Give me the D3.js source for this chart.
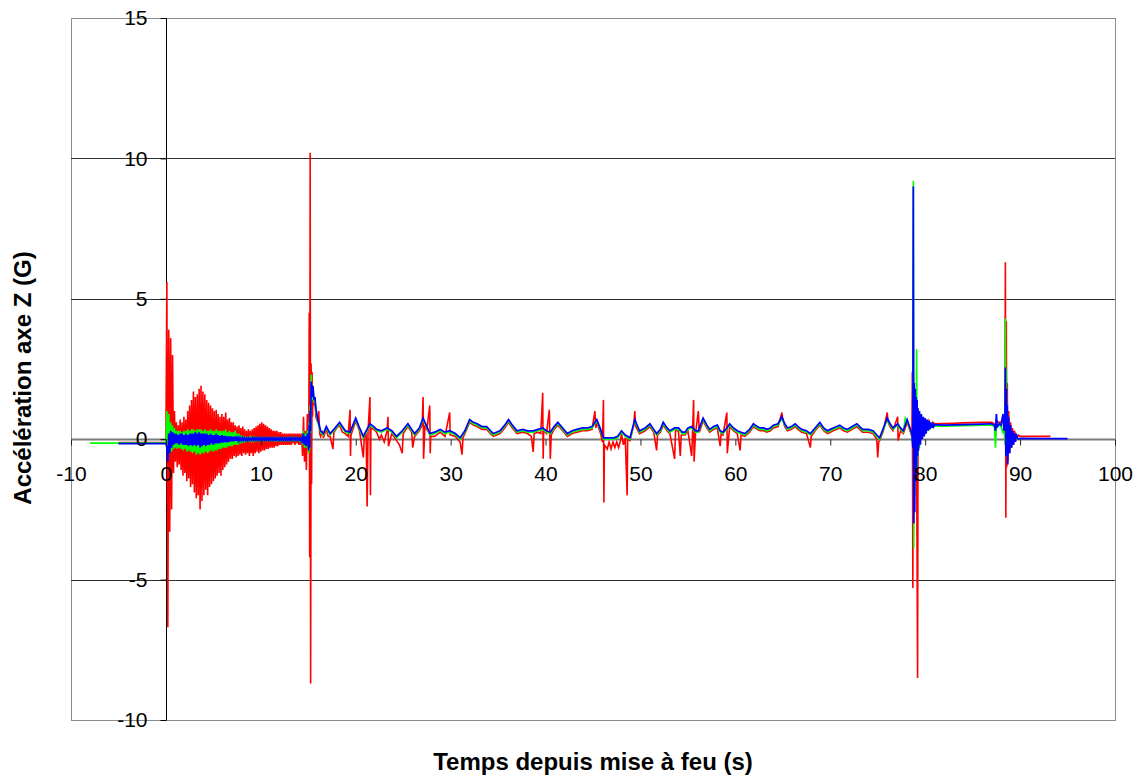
<!DOCTYPE html>
<html><head><meta charset="utf-8">
<script src="https://cdn.jsdelivr.net/npm/d3@7"></script>
<style>body{margin:0;background:#fff}svg{display:block}</style>
</head><body>
<svg id="chart" width="1148" height="776"></svg>
<script>
// ---------- tick labels ----------
const xTicks = [-10, 0, 10, 20, 30, 40, 50, 60, 70, 80, 90, 100];
const yTicks = [-10, -5, 0, 5, 10, 15];
const gridValues = [-5, 5, 10];
const xTitle = "Temps depuis mise à feu (s)";
const yTitle = "Accélération axe Z (G)";

// ---------- data : time (s), acceleration (G) ----------
// before ignition
const redPre = [[-5, -0.12], [-0.05, -0.12]];
const greenPre = [[-8, -0.14], [-0.05, -0.14]];
const bluePre = [[-5, -0.16], [-0.05, -0.16]];

// ignition burst, sampled every 0.1 s from 0.0 to 15.0 s
const burstStep = 0.1;
const redBurst = [
  -0.1, 5.6, -6.7, 3.9, -3.3, 3.6, -2.5, 3.0, -1.2, 1.0,
  -0.8, 0.6, -1.0, 0.5, -0.9, 0.7, -1.1, 0.6, -1.3, 0.8,
  -1.2, 0.7, -1.5, 1.0, -1.4, 1.2, -1.7, 1.4, -1.6, 1.7,
  -1.9, 1.5, -2.1, 1.6, -2.0, 1.8, -2.5, 1.9, -2.2, 1.7,
  -2.0, 1.6, -1.8, 1.4, -2.0, 1.3, -1.7, 1.2, -1.6, 1.1,
  -1.5, 1.0, -1.4, 1.05, -1.3, 0.9, -1.2, 0.8, -1.3, 0.9,
  -1.1, 0.8, -1.0, 0.95, -0.9, 0.7, -0.8, 0.75, -0.7, 0.6,
  -0.7, 0.6, -0.6, 0.5, -0.65, 0.45, -0.6, 0.5, -0.55, 0.4,
  -0.6, 0.45, -0.5, 0.35, -0.55, 0.3, -0.5, 0.35, -0.6, 0.3,
  -0.5, 0.35, -0.6, 0.4, -0.5, 0.45, -0.45, 0.5, -0.5, 0.55,
  -0.45, 0.6, -0.4, 0.55, -0.4, 0.5, -0.35, 0.45, -0.35, 0.4,
  -0.3, 0.35, -0.3, 0.3, -0.3, 0.3, -0.25, 0.3, -0.25, 0.25,
  -0.2, 0.25, -0.2, 0.2, -0.2, 0.2, -0.2, 0.2, -0.2, 0.2,
  -0.2, 0.2, -0.2, 0.2, -0.15, 0.2, -0.2, 0.2, -0.15, 0.2,
  -0.2, 0.2, -0.2, 0.2, -0.6, 0.8, -0.8, 0.3, -1.1, 0.9,
  -0.2
];
const greenBurst = [
  -0.1, 1.0, -0.6, 0.9, -0.5, 0.6, -0.45, 0.5, -0.35, 0.4,
  -0.3, 0.3, -0.35, 0.3, -0.3, 0.3, -0.35, 0.25, -0.4, 0.3,
  -0.35, 0.3, -0.45, 0.35, -0.4, 0.3, -0.45, 0.35, -0.5, 0.35,
  -0.45, 0.3, -0.55, 0.35, -0.5, 0.35, -0.55, 0.35, -0.5, 0.3,
  -0.5, 0.35, -0.45, 0.3, -0.5, 0.3, -0.45, 0.35, -0.4, 0.3,
  -0.45, 0.3, -0.4, 0.35, -0.4, 0.3, -0.35, 0.3, -0.35, 0.3,
  -0.3, 0.3, -0.3, 0.35, -0.3, 0.25, -0.25, 0.3, -0.25, 0.25,
  -0.25, 0.25, -0.2, 0.3, -0.2, 0.2, -0.2, 0.2, -0.15, 0.15,
  -0.15, 0.12, -0.12, 0.1, -0.1, 0.08, -0.08, 0.08, -0.08, 0.06,
  -0.06, 0.05, -0.05, 0.05, -0.05, 0.04, -0.04, 0.04, -0.04, 0.04,
  -0.04, 0.04, -0.04, 0.04, -0.04, 0.04, -0.04, 0.04, -0.04, 0.04,
  -0.04, 0.04, -0.04, 0.04, -0.04, 0.04, -0.04, 0.04, -0.04, 0.04,
  -0.04, 0.04, -0.04, 0.04, -0.04, 0.04, -0.04, 0.04, -0.04, 0.04,
  -0.04, 0.04, -0.04, 0.04, -0.04, 0.04, -0.04, 0.04, -0.04, 0.04,
  -0.04, 0.04, -0.04, 0.04, -0.2, 0.3, -0.3, 0.2, -0.3, 0.3,
  -0.1
];
const blueBurst = [
  -0.15, -0.3, -0.8, 0.2, -0.5, 0.3, -0.3, 0.25, -0.2, 0.2,
  -0.15, 0.2, -0.15, 0.15, -0.2, 0.2, -0.15, 0.2, -0.2, 0.15,
  -0.2, 0.2, -0.2, 0.15, -0.25, 0.2, -0.2, 0.2, -0.25, 0.2,
  -0.2, 0.25, -0.25, 0.2, -0.2, 0.25, -0.3, 0.2, -0.25, 0.2,
  -0.2, 0.2, -0.25, 0.2, -0.2, 0.15, -0.2, 0.2, -0.15, 0.15,
  -0.2, 0.15, -0.15, 0.2, -0.15, 0.15, -0.15, 0.12, -0.12, 0.15,
  -0.12, 0.12, -0.1, 0.12, -0.12, 0.1, -0.1, 0.1, -0.08, 0.1,
  -0.08, 0.08, -0.08, 0.1, -0.06, 0.06, -0.06, 0.06, -0.05, 0.05,
  -0.05, 0.05, -0.04, 0.04, -0.04, 0.04, -0.04, 0.04, -0.03, 0.03,
  -0.03, 0.04, -0.03, 0.04, -0.03, 0.04, -0.03, 0.04, -0.03, 0.04,
  -0.03, 0.04, -0.03, 0.04, -0.03, 0.04, -0.03, 0.04, -0.03, 0.04,
  -0.03, 0.04, -0.03, 0.04, -0.03, 0.04, -0.03, 0.04, -0.03, 0.04,
  -0.03, 0.04, -0.03, 0.04, -0.03, 0.04, -0.03, 0.04, -0.03, 0.04,
  -0.03, 0.04, -0.03, 0.04, -0.03, 0.04, -0.03, 0.04, -0.03, 0.04,
  -0.03, 0.04, -0.03, 0.04, -0.15, 0.2, -0.2, 0.1, -0.25, 0.2,
  0.0
];

// from the 15 s shock to the end of the flight
const redMid = [
  [15.05,-0.5],[15.1,4.5],[15.15,-4.2],[15.2,10.2],[15.25,-8.7],
  [15.3,2.7],[15.35,-1.6],[15.4,2.4],[15.45,0.8],[15.5,1.8],[15.6,1.2],[15.7,1.5],[15.8,0.8],
  [16.0,0.6],[16.1,1.0],[16.2,0.2],[16.3,0.1],[16.5,0.3],[16.6,0.05],[16.9,0.35],[17.1,0.1],
  [17.3,0.1],[17.6,-0.35],[17.7,0.25],[18.0,0.4],[18.3,0.5],[18.6,0.25],[18.9,0.2],[19.2,0.1],
  [19.4,1.05],[19.45,-0.6],[19.5,0.15],[20.0,0.65],[20.4,0.3],[20.8,-0.65],[20.9,0.05],[21.1,0.2],
  [21.2,-2.4],[21.3,0.3],[21.5,1.5],[21.55,-2.0],[21.6,0.4],[21.9,0.35],[22.2,0.25],[22.5,0.0],
  [22.7,0.15],[23.0,-0.1],[23.3,0.3],[23.4,0.8],[23.45,-0.25],[23.8,0.2],[24.3,-0.05],[24.6,-0.2],
  [24.9,-0.5],[25.0,0.2],[25.5,0.45],[25.9,0.25],[26.0,-0.3],[26.2,0.1],[26.7,0.3],[27.0,0.5],
  [27.1,1.5],[27.15,-0.7],[27.3,0.5],[27.5,0.35],[27.8,1.2],[27.85,-0.5],[27.9,0.1],[28.3,0.1],
  [28.9,0.25],[29.4,0.1],[29.9,0.95],[29.95,0.15],[30.5,0.1],[31.0,-0.1],[31.2,-0.55],[31.3,0.05],
  [31.5,0.2],[32.0,0.6],[32.4,0.5],[32.8,0.45],[33.3,0.35],[33.8,0.35],[34.2,0.2],[34.5,0.1],
  [35.2,0.2],[35.7,0.4],[36.1,0.6],[36.5,0.4],[37.0,0.2],[37.6,0.25],[38.1,0.2],[38.5,0.1],
  [38.7,-0.45],[38.8,0.2],[39.2,0.25],[39.5,0.2],[39.7,1.65],[39.75,-0.7],[39.8,0.3],[40.1,0.2],
  [40.4,1.05],[40.5,-0.7],[40.6,0.15],[40.9,0.35],[41.3,0.5],[41.8,0.3],[42.3,0.1],[42.8,0.2],
  [43.3,0.25],[43.9,0.3],[44.4,0.3],[44.9,0.35],[45.2,1.0],[45.3,0.4],[45.4,0.6],[45.8,0.2],
  [46.0,-0.1],[46.1,1.4],[46.15,-2.25],[46.2,-0.2],[46.5,-0.35],[46.7,-0.1],[46.9,-0.35],[47.1,-0.1],
  [47.3,-0.3],[47.5,-0.1],[47.7,-0.3],[47.9,-0.05],[48.0,0.2],[48.2,-0.2],[48.4,0.05],[48.6,-2.0],
  [48.65,0.0],[48.9,-0.05],[49.3,0.5],[49.4,1.0],[49.5,0.45],[49.9,0.2],[50.5,0.3],[51.0,0.45],
  [51.4,0.25],[51.7,-0.4],[51.8,0.15],[52.1,0.25],[52.4,0.5],[52.8,0.3],[53.1,0.2],[53.6,-0.7],
  [53.7,0.3],[54.0,0.3],[54.2,-0.6],[54.3,0.15],[54.7,0.15],[55.0,0.3],[55.4,-0.6],[55.5,0.35],
  [55.6,1.4],[55.65,-0.8],[55.8,0.2],[56.1,1.0],[56.2,0.25],[56.6,0.65],[57.0,0.4],[57.3,0.25],
  [57.7,0.35],[58.1,0.4],[58.4,-0.25],[58.5,0.2],[58.7,0.15],[59.1,0.95],[59.15,-0.5],[59.4,0.45],
  [59.8,0.3],[60.2,0.2],[60.5,-0.4],[60.6,0.15],[61.0,0.1],[61.5,0.25],[61.9,0.45],[62.3,0.35],
  [62.6,0.3],[63.0,0.3],[63.3,0.25],[63.7,0.3],[64.0,0.4],[64.5,0.45],[64.9,0.95],[65.0,0.7],
  [65.2,0.45],[65.5,0.3],[65.9,0.35],[66.3,0.45],[66.6,0.35],[67.0,0.25],[67.5,0.2],[67.9,-0.3],
  [68.0,0.1],[68.4,0.3],[68.9,0.5],[69.3,0.3],[69.7,0.2],[70.0,0.25],[70.3,0.3],[70.7,0.35],
  [71.0,0.4],[71.4,0.3],[71.8,0.25],[72.3,0.35],[72.8,0.45],[73.1,0.35],[73.4,0.25],[74.0,0.25],
  [74.5,0.2],[74.9,0.0],[75.0,-0.65],[75.1,-0.1],[75.2,-0.05],[75.6,0.3],[76.0,0.95],[76.1,0.6],
  [76.3,0.45],[76.6,0.3],[77.1,0.8],[77.15,-0.05],[77.4,0.3],[77.7,0.2],[78.1,0.6],[78.4,0.3],
  [78.6,0.1]
];
const redEnd = [
  [78.65,2.4],[78.7,-5.3],[78.75,1.5],[78.8,-1.5],[78.85,1.2],[78.9,-1.0],[78.95,1.0],[79.0,-0.8],
  [79.05,0.9],[79.1,-0.6],[79.2,-8.5],[79.25,0.9],[79.3,-0.3],[79.4,0.9],[79.5,0.0],[79.6,0.8],
  [79.7,0.1],[79.8,0.75],[79.9,0.2],[80.0,0.7],[80.2,0.35],[80.4,0.65],[80.6,0.45],[80.8,0.6],
  [81.0,0.55],[82,0.56],[83,0.57],[84,0.58],[85,0.59],[86,0.6],[87,0.6],[87.3,0.55],[87.4,0.3],
  [87.5,0.65],[87.8,0.6],[88.0,0.6],[88.2,0.8],[88.3,0.4],[88.4,0.9],[88.45,6.3],[88.5,-2.8],
  [88.55,4.2],[88.6,-1.0],[88.65,2.0],[88.7,-0.8],[88.8,1.0],[88.9,-0.5],[89.0,0.6],[89.1,-0.3],
  [89.2,0.4],[89.3,-0.2],[89.4,0.3],[89.6,0.0],[89.8,0.15],[90.0,0.1],[91,0.1],[92,0.1],[93.2,0.1]
];

const greenMid = [
  [15.05,-0.5],[15.1,0.6],[15.15,-0.4],[15.2,1.2],[15.25,0.2],[15.3,2.3],[15.4,1.4],[15.5,1.8],
  [15.6,1.3],[15.7,1.4],[15.8,1.0],[16.0,0.6],[16.3,0.25],[16.6,0.15],[16.9,0.4],[17.3,0.15],
  [17.7,0.3],[18.3,0.55],[18.9,0.25],[19.4,0.2],[20.0,0.7],[20.4,0.35],[20.8,0.05],[21.1,0.25],
  [21.5,0.5],[21.9,0.4],[22.2,0.3],[22.7,0.25],[23.3,0.35],[23.8,0.25],[24.3,0.05],[24.9,0.25],
  [25.5,0.5],[25.9,0.3],[26.2,0.15],[26.7,0.35],[27.1,0.7],[27.5,0.4],[27.8,0.15],[28.3,0.2],
  [28.9,0.3],[29.4,0.2],[29.9,0.25],[30.5,0.15],[31.0,0.0],[31.5,0.25],[32.0,0.65],[32.4,0.55],
  [32.8,0.5],[33.3,0.4],[33.8,0.4],[34.2,0.25],[34.5,0.15],[35.2,0.25],[35.7,0.45],[36.1,0.65],
  [36.5,0.45],[37.0,0.25],[37.6,0.3],[38.1,0.25],[38.7,0.25],[39.2,0.3],[39.7,0.35],[40.1,0.25],
  [40.5,0.2],[40.9,0.4],[41.3,0.55],[41.8,0.35],[42.3,0.15],[42.8,0.25],[43.3,0.3],[43.9,0.35],
  [44.4,0.35],[44.9,0.4],[45.4,0.65],[45.8,0.3],[46.1,0.0],[46.7,0.0],[47.2,0.0],[47.6,0.05],
  [48.0,0.25],[48.4,0.1],[48.9,0.0],[49.4,0.65],[49.9,0.25],[50.5,0.35],[51.0,0.5],[51.4,0.3],
  [51.7,0.15],[52.1,0.3],[52.4,0.55],[52.8,0.35],[53.1,0.25],[53.6,0.35],[54.0,0.35],[54.4,0.2],
  [54.7,0.2],[55.0,0.35],[55.4,0.4],[55.8,0.25],[56.1,0.25],[56.6,0.7],[57.0,0.45],[57.3,0.3],
  [57.7,0.4],[58.1,0.45],[58.4,0.25],[58.7,0.2],[59.1,0.35],[59.4,0.5],[59.8,0.35],[60.2,0.25],
  [60.6,0.2],[61.0,0.15],[61.5,0.3],[61.9,0.5],[62.3,0.4],[62.6,0.35],[63.0,0.35],[63.3,0.3],
  [63.7,0.35],[64.0,0.45],[64.5,0.5],[64.9,0.75],[65.2,0.5],[65.5,0.35],[65.9,0.4],[66.3,0.5],
  [66.6,0.4],[67.0,0.3],[67.5,0.25],[67.9,0.15],[68.4,0.35],[68.9,0.55],[69.3,0.35],[69.7,0.25],
  [70.0,0.3],[70.3,0.35],[70.7,0.4],[71.0,0.45],[71.4,0.35],[71.8,0.3],[72.3,0.4],[72.8,0.5],
  [73.1,0.4],[73.4,0.3],[74.0,0.3],[74.5,0.25],[74.9,0.1],[75.2,0.0],[75.6,0.35],[76.0,0.7],
  [76.3,0.5],[76.6,0.35],[77.1,0.5],[77.4,0.35],[77.7,0.25],[77.9,0.75],[78.1,0.6],[78.4,0.35],
  [78.6,0.15]
];
const greenEnd = [
  [78.7,-0.2],[78.75,9.2],[78.8,-3.9],[78.85,1.5],[78.9,-2.0],[78.95,1.2],[79.0,-1.2],[79.05,1.0],
  [79.1,3.2],[79.15,-1.0],[79.2,1.0],[79.25,-0.6],[79.3,0.9],[79.4,-0.3],[79.5,0.8],[79.6,0.0],
  [79.7,0.75],[79.8,0.1],[79.9,0.7],[80.0,0.2],[80.2,0.6],[80.4,0.35],[80.6,0.55],[80.8,0.42],
  [81.0,0.47],[82,0.46],[83,0.47],[84,0.48],[85,0.49],[86,0.5],[87,0.5],[87.3,0.45],[87.4,-0.3],
  [87.5,0.4],[87.8,0.5],[88.0,0.45],[88.2,0.2],[88.3,0.6],[88.4,-0.2],[88.45,4.3],[88.5,-0.45],
  [88.55,2.5],[88.6,-0.6],[88.65,1.0],[88.7,-0.5],[88.8,0.6],[88.9,-0.3],[89.0,0.3],[89.2,-0.1],
  [89.4,0.1],[89.6,0.0],[90,0.0]
];

const blueMid = [
  [15.05,-0.4],[15.1,0.5],[15.15,-0.3],[15.2,1.0],[15.25,0.3],[15.3,2.05],[15.4,1.5],[15.5,1.9],
  [15.6,1.4],[15.7,1.5],[15.8,1.1],[16.0,0.7],[16.3,0.3],[16.6,0.2],[16.9,0.45],[17.3,0.2],
  [17.7,0.35],[18.3,0.6],[18.9,0.3],[19.4,0.25],[20.0,0.75],[20.4,0.4],[20.8,0.1],[21.1,0.3],
  [21.5,0.55],[21.9,0.45],[22.2,0.35],[22.7,0.3],[23.3,0.4],[23.8,0.3],[24.3,0.1],[24.9,0.3],
  [25.5,0.55],[25.9,0.35],[26.2,0.2],[26.7,0.4],[27.1,0.75],[27.5,0.45],[27.8,0.2],[28.3,0.25],
  [28.9,0.35],[29.4,0.25],[29.9,0.3],[30.5,0.2],[31.0,0.05],[31.5,0.3],[32.0,0.7],[32.4,0.6],
  [32.8,0.55],[33.3,0.45],[33.8,0.45],[34.2,0.3],[34.5,0.2],[35.2,0.3],[35.7,0.5],[36.1,0.7],
  [36.5,0.5],[37.0,0.3],[37.6,0.35],[38.1,0.3],[38.7,0.3],[39.2,0.35],[39.7,0.4],[40.1,0.3],
  [40.5,0.25],[40.9,0.45],[41.3,0.6],[41.8,0.4],[42.3,0.2],[42.8,0.3],[43.3,0.35],[43.9,0.4],
  [44.4,0.4],[44.9,0.45],[45.4,0.7],[45.8,0.35],[46.1,0.05],[46.7,0.05],[47.2,0.05],[47.6,0.1],
  [48.0,0.3],[48.4,0.15],[48.9,0.05],[49.4,0.7],[49.9,0.3],[50.5,0.4],[51.0,0.55],[51.4,0.35],
  [51.7,0.2],[52.1,0.35],[52.4,0.6],[52.8,0.4],[53.1,0.3],[53.6,0.4],[54.0,0.4],[54.4,0.25],
  [54.7,0.25],[55.0,0.4],[55.4,0.45],[55.8,0.3],[56.1,0.3],[56.6,0.75],[57.0,0.5],[57.3,0.35],
  [57.7,0.45],[58.1,0.5],[58.4,0.3],[58.7,0.25],[59.1,0.4],[59.4,0.55],[59.8,0.4],[60.2,0.3],
  [60.6,0.25],[61.0,0.2],[61.5,0.35],[61.9,0.55],[62.3,0.45],[62.6,0.4],[63.0,0.4],[63.3,0.35],
  [63.7,0.4],[64.0,0.5],[64.5,0.55],[64.9,0.8],[65.2,0.55],[65.5,0.4],[65.9,0.45],[66.3,0.55],
  [66.6,0.45],[67.0,0.35],[67.5,0.3],[67.9,0.2],[68.4,0.4],[68.9,0.6],[69.3,0.4],[69.7,0.3],
  [70.0,0.35],[70.3,0.4],[70.7,0.45],[71.0,0.5],[71.4,0.4],[71.8,0.35],[72.3,0.45],[72.8,0.55],
  [73.1,0.45],[73.4,0.35],[74.0,0.35],[74.5,0.3],[74.9,0.15],[75.2,0.05],[75.6,0.4],[76.0,0.75],
  [76.3,0.55],[76.6,0.4],[77.1,0.55],[77.4,0.4],[77.7,0.3],[78.1,0.7],[78.4,0.4],[78.6,0.2]
];
const blueEnd = [
  [78.7,-0.3],[78.75,9.0],[78.8,-3.0],[78.85,2.0],[78.9,-2.6],[78.95,1.8],[79.0,-1.5],[79.05,1.5],
  [79.1,-1.0],[79.15,1.4],[79.2,-0.6],[79.25,1.1],[79.3,-0.4],[79.4,1.0],[79.5,-0.2],[79.6,0.9],
  [79.7,0.0],[79.8,0.8],[79.9,0.1],[80.0,0.75],[80.1,0.2],[80.2,0.7],[80.3,0.3],[80.4,0.65],
  [80.5,0.35],[80.6,0.6],[80.7,0.4],[80.8,0.58],[80.9,0.45],[81.0,0.52],[82,0.5],[83,0.51],
  [84,0.52],[85,0.53],[86,0.54],[87,0.55],[87.3,0.5],[87.4,0.3],[87.5,0.9],[87.6,0.45],[87.8,0.55],
  [88.0,0.5],[88.2,0.9],[88.3,0.3],[88.4,0.7],[88.45,2.55],[88.5,-0.6],[88.55,1.8],[88.6,-0.4],
  [88.65,1.2],[88.7,-0.9],[88.8,0.8],[88.9,-0.5],[89.0,0.5],[89.1,-0.3],[89.2,0.3],[89.3,-0.2],
  [89.4,0.2],[89.5,-0.1],[89.6,0.15],[89.8,0.0],[90,0.03],[92,0.02],[95,0.02]
];

// ---------- assemble series ----------
function burstPairs(values) {
  return values.map((v, i) => [+(i * burstStep).toFixed(2), v]);
}
const series = [
  { name: "red",   color: "#ff0000", width: 1.6, data: redPre.concat(burstPairs(redBurst), redMid, redEnd) },
  { name: "green", color: "#00ff00", width: 1.6, data: greenPre.concat(burstPairs(greenBurst), greenMid, greenEnd) },
  { name: "blue",  color: "#0000ff", width: 1.7, data: bluePre.concat(burstPairs(blueBurst), blueMid, blueEnd) }
];

// ---------- drawing ----------
const svg = d3.select("#chart");
const plot = { left: 71, right: 1115, top: 18, bottom: 720 };
const x = d3.scaleLinear().domain([-10, 100]).range([plot.left, plot.right]);
const y = d3.scaleLinear().domain([-10, 15]).range([plot.bottom, plot.top]);
const font = "'Liberation Sans', Arial, sans-serif";

svg.append("rect").attr("width", 1148).attr("height", 776).attr("fill", "#fff");

// plot frame
svg.append("rect")
  .attr("x", plot.left + 0.5).attr("y", plot.top + 0.5)
  .attr("width", plot.right - plot.left).attr("height", plot.bottom - plot.top)
  .attr("fill", "none").attr("stroke", "#8c8c8c").attr("stroke-width", 1);

// horizontal gridlines
svg.append("g").selectAll("line").data(gridValues).join("line")
  .attr("x1", plot.left).attr("x2", plot.right)
  .attr("y1", d => Math.round(y(d)) + 0.5).attr("y2", d => Math.round(y(d)) + 0.5)
  .attr("stroke", "#303030").attr("stroke-width", 1);

// x axis line (zero)
svg.append("line")
  .attr("x1", plot.left).attr("x2", plot.right)
  .attr("y1", Math.round(y(0)) + 0.5).attr("y2", Math.round(y(0)) + 0.5)
  .attr("stroke", "#7a7a7a").attr("stroke-width", 2);

// y axis line (t = 0)
svg.append("line")
  .attr("x1", Math.round(x(0)) + 0.5).attr("x2", Math.round(x(0)) + 0.5)
  .attr("y1", plot.top).attr("y2", plot.bottom)
  .attr("stroke", "#000").attr("stroke-width", 1);

// series
const line = d3.line().x(d => x(d[0])).y(d => y(d[1]));
svg.append("g").selectAll("path").data(series).join("path")
  .attr("d", d => line(d.data))
  .attr("fill", "none")
  .attr("stroke", d => d.color)
  .attr("stroke-width", d => d.width)
  .attr("stroke-linejoin", "miter");

// y axis ticks + labels
const plain = d => String(d);
const yAxis = d3.axisLeft(y).tickValues(yTicks).tickSize(6).tickPadding(13).tickFormat(plain);
const gy = svg.append("g").attr("transform", `translate(${Math.round(x(0)) + 0.5},0)`).call(yAxis);
gy.select(".domain").remove();
gy.selectAll("line").attr("stroke", "#000");
gy.selectAll("text").attr("font-family", font).attr("font-size", 21).attr("fill", "#000");

// x axis ticks + labels
const xAxis = d3.axisBottom(x).tickValues(xTicks).tickSize(6).tickPadding(21).tickFormat(plain);
const gx = svg.append("g").attr("transform", `translate(0,${Math.round(y(0)) + 0.5})`).call(xAxis);
gx.select(".domain").remove();
gx.selectAll("line").attr("stroke", "#222");
gx.selectAll("text").attr("font-family", font).attr("font-size", 21).attr("fill", "#000");

// axis titles
svg.append("text")
  .attr("x", (plot.left + plot.right) / 2).attr("y", 770)
  .attr("text-anchor", "middle")
  .attr("font-family", font).attr("font-weight", "bold").attr("font-size", 24)
  .text(xTitle);
svg.append("text")
  .attr("transform", "translate(31,378) rotate(-90)")
  .attr("text-anchor", "middle")
  .attr("font-family", font).attr("font-weight", "bold").attr("font-size", 24)
  .text(yTitle);
</script>
</body></html>
